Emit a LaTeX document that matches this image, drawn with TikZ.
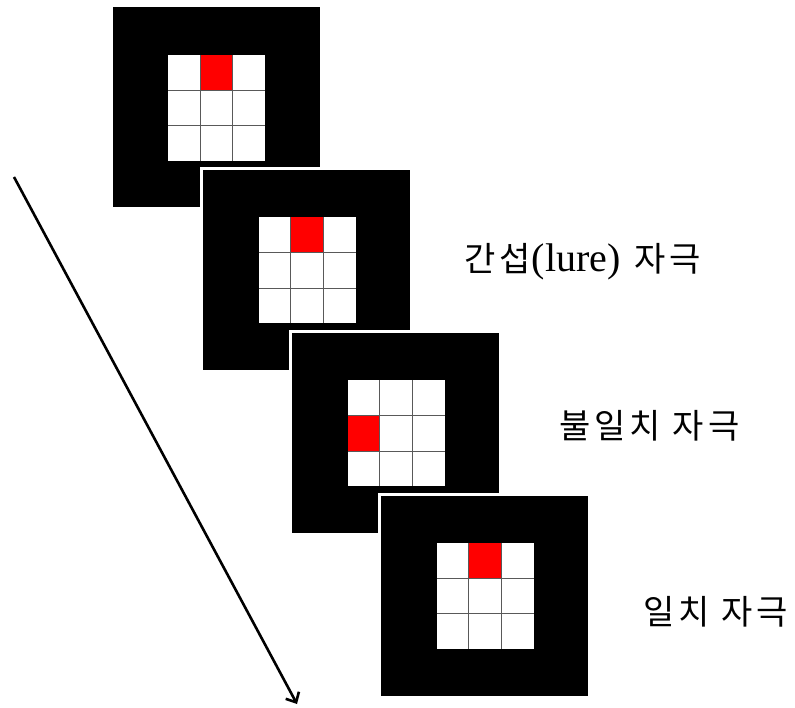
\documentclass[tikz,border=0pt]{standalone}
\usepackage{fontspec}
\newfontfamily\krfont[LetterSpace=12]{Noto Sans CJK KR}
\newfontfamily\latfont{Liberation Serif}
\usetikzlibrary{arrows.meta}
\tikzset{
  outerbox/.style={fill=black},
  gapbox/.style={fill=white},
  gridfill/.style={fill=white},
  redcell/.style={fill=red},
  gridline/.style={draw=black!65, line width=0.9pt},
  label/.style={font=\krfont\fontsize{34}{40}\selectfont, anchor=west, inner sep=0pt},
  timearrow/.style={line width=2.6pt, -{Straight Barb[length=8pt,width=15pt,line width=2.6pt]}}
}
% #1,#2 = top-left of the black square; #3 = red column (0..2); #4 = red row (0..2); #5 = draw white gap
\newcommand\stimulus[5]{%
  \begin{scope}[shift={(#1,#2)}]
    \ifnum#5=1 \fill[gapbox] (-3,-3) rectangle (210,203);\fi
    \fill[outerbox] (0,0) rectangle (207,200);
    \begin{scope}[shift={(55.5,47.3)}]
      \fill[gridfill] (0,0) rectangle (97.2,106);
      \fill[redcell] ({#3*32.4},{#4*35.33}) rectangle ({(#3+1)*32.4},{(#4+1)*35.33});
      \draw[gridline] (32.4,0) -- (32.4,106) (64.8,0) -- (64.8,106)
                      (0,35.33) -- (97.2,35.33) (0,70.67) -- (97.2,70.67);
    \end{scope}
  \end{scope}}
\begin{document}
\begin{tikzpicture}[x=1pt, y=-1pt]
  \useasboundingbox (0,0) rectangle (795,708);
  \stimulus{112.5}{7.5}{1}{0}{0}
  \stimulus{203}{170}{1}{0}{1}
  \stimulus{292}{333}{0}{1}{1}
  \stimulus{381}{495.5}{1}{0}{1}
  \node[label] (lure) at (464,262) {간섭\hspace{1pt}{\latfont\fontsize{40}{44}\selectfont(lure)}\hspace{2pt} 자극};
  \node[label] (mismatch) at (559,426) {불일치 자극};
  \node[label] (match) at (643,612) {일치 자극};
  \coordinate (tstart) at (14,177);
  \coordinate (tend) at (297,704);
  \draw[timearrow] (tstart) -- (tend);
\end{tikzpicture}
\end{document}
